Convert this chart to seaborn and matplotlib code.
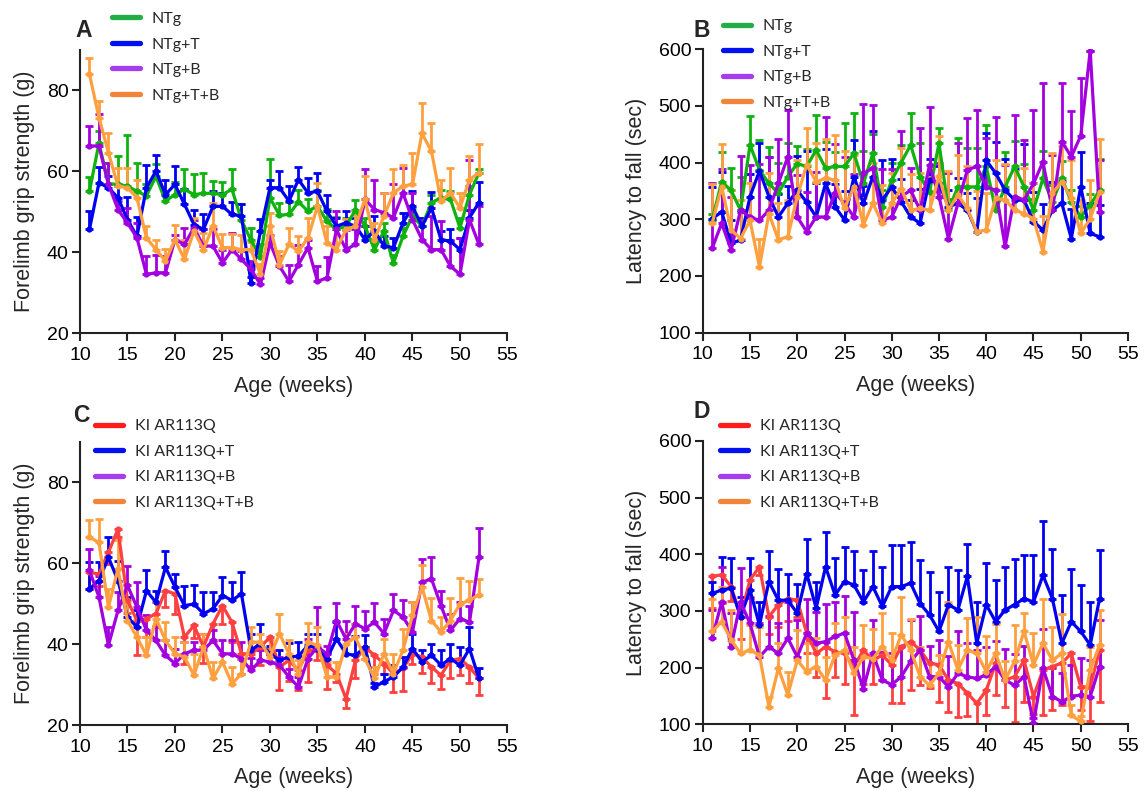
import matplotlib
matplotlib.use("Agg")
import matplotlib.pyplot as plt
from matplotlib.lines import Line2D
import pandas as pd
import seaborn as sns

weeks = list(range(11, 53))

# ---- Panel A: forelimb grip strength (g), NTg groups ----
a_ntg = [55.1, 67, 57, 56.8, 56.4, 55.1, 54, 58.8, 52.7, 54.3,
         55.6, 54.3, 54.6, 54.6, 54.3, 55.6, 48, 43, 39, 53.5,
         49.2, 49.4, 52.5, 50.2, 51.4, 47.7, 45.7, 46.5, 50.5, 46.5,
         40.7, 45.3, 37.4, 44, 49, 46.5, 52.3, 53.5, 53.1, 46.1, 54.3, 59.7]
a_ntg_err = [3.5, 3, 5, 7, 12.5, 7, 3, 3, 2, 3,
             5, 5, 5, 3, 3, 5, 4, 3, 3, 9.5,
             3, 3, 3, 3, 4, 3, 3, 2, 2.5, 2,
             2, 2, 2, 2, 2, 2, 2, 2, 2, 2.5, 2, 1]
a_t = [45.7, 57.2, 56, 53.5, 48.1, 44, 56, 60.1, 54.3, 56.8,
       51.9, 46.9, 45.7, 51.4, 51.4, 49.4, 49, 32.5, 45.3, 56,
       56, 52.7, 58, 54.7, 55.1, 50.2, 46.5, 47.3, 46.5, 43.2,
       45.3, 41.6, 41.2, 47.3, 51.4, 46.5, 51, 43.2, 42.8, 40.7, 48.6, 52.3]
a_t_err = [4.5, 4, 3, 3, 5.6, 4.8, 5.7, 4, 3.7, 4.5,
           3.7, 3.7, 3.7, 3.7, 3.3, 3, 3, 1.5, 3, 2,
           4, 3.7, 3, 3.7, 4.6, 4, 2, 3, 2, 3.3,
           3.7, 2.5, 2.5, 2.5, 3.7, 2, 4, 2, 3, 3, 2, 5]
a_b = [66.3, 66.3, 56.8, 50.6, 47.3, 43.6, 34.6, 35, 35, 43.2,
       42, 46.1, 41.6, 41.6, 37.4, 40.7, 38.3, 35.8, 32.1, 42.4,
       36.6, 32.9, 37, 41.2, 32.9, 33.7, 45.7, 40.7, 42, 53.1,
       50.6, 49.8, 48.6, 54.7, 48.1, 43.2, 40.7, 40.7, 36.6, 34.6, 48.1, 42]
a_b_err = [4.9, 7.8, 5.3, 2, 3.7, 3.7, 4.5, 4.5, 4.1, 1,
           4, 2, 4.1, 4.1, 3.3, 4.1, 2, 2, 1.5, 2,
           2.5, 4.1, 4.9, 2, 3.7, 5.3, 4.5, 4.9, 3.7, 7.4,
           7.2, 4.9, 8.2, 6.2, 6.7, 4.9, 8.2, 7, 6.6, 9, 14.8, 9.4]
a_tb = [84, 73.3, 64.6, 56.4, 56, 53.5, 43.6, 40.7, 37.9, 43.2,
        38.3, 45.3, 40.7, 46.5, 41.2, 41.2, 40.7, 40.7, 34.6, 46.5,
        37, 42, 40.3, 43.6, 51.4, 42.4, 40.7, 45.7, 46.5, 53.1,
        43.2, 49, 54.7, 56.4, 56.8, 69.4, 65, 52.7, 54.7, 51, 58, 59.7]
a_tb_err = [4, 4.1, 4.9, 4.5, 4.9, 4.5, 2.9, 2.5, 2.9, 3.7,
            4.9, 3.3, 4.1, 5.8, 3.3, 3.3, 3.7, 2, 2.5, 3.3,
            3.3, 4.1, 3.7, 4.9, 5.8, 4.1, 5.3, 2.5, 3.7, 5.8,
            4.1, 5.8, 5.9, 5.1, 7.7, 7.6, 7, 5.3, 6.2, 3.7, 5.8, 7]

# ---- Panel B: rotarod latency to fall (sec), NTg groups ----
b_ntg = [299, 366, 351, 316, 431, 387, 363, 346, 375, 398,
         393, 422, 390, 393, 393, 416, 363, 416, 322, 369,
         400, 431, 375, 348, 434, 316, 357, 357, 357, 393,
         316, 357, 393, 357, 316, 372, 331, 372, 331, 304, 325, 351]
b_ntg_err = [10, 53, 39, 59, 51, 53, 65, 54, 59, 31,
             30, 62, 47, 25, 77, 71, 57, 34, 30, 30,
             30, 57, 59, 20, 27, 20, 87, 68, 68, 73,
             20, 61, 45, 40, 20, 49, 30, 30, 20, 20, 20, 56]
b_t = [301, 313, 258, 263, 340, 385, 340, 304, 328, 351,
       330, 304, 363, 322, 299, 375, 328, 375, 334, 357,
       331, 304, 293, 369, 363, 322, 328, 316, 278, 404,
       381, 351, 334, 334, 296, 281, 316, 328, 266, 357, 275, 269]
b_t_err = [56, 70, 40, 50, 40, 50, 70, 40, 30, 60,
           90, 60, 60, 40, 50, 65, 30, 80, 70, 50,
           40, 30, 60, 38, 30, 30, 44, 30, 60, 48,
           56, 55, 55, 98, 52, 45, 50, 40, 52, 61, 53, 56]
b_b = [249, 293, 246, 316, 304, 298, 316, 363, 410, 304,
       278, 304, 304, 346, 328, 304, 381, 390, 298, 304,
       340, 351, 316, 396, 340, 266, 328, 387, 393, 357,
       351, 252, 340, 334, 363, 401, 316, 437, 410, 447, 597, 313]
b_b_err = [115, 95, 94, 95, 92, 99, 94, 78, 82, 74,
           70, 80, 177, 86, 82, 75, 122, 112, 90, 85,
           116, 40, 145, 102, 60, 115, 106, 91, 100, 86,
           130, 144, 143, 106, 129, 139, 97, 103, 80, 102, 0, 91]
b_tb = [293, 357, 281, 266, 298, 216, 310, 264, 269, 340,
        396, 366, 372, 369, 319, 357, 290, 328, 293, 328,
        354, 316, 319, 316, 376, 316, 343, 319, 278, 281,
        337, 334, 316, 310, 301, 243, 346, 366, 337, 275, 301, 348]
b_tb_err = [69, 76, 70, 68, 66, 50, 71, 64, 65, 64,
            64, 68, 69, 79, 101, 56, 47, 71, 67, 53,
            71, 64, 63, 58, 71, 69, 70, 74, 71, 65,
            68, 63, 69, 81, 62, 63, 71, 63, 68, 59, 68, 93]

# ---- Panel C: forelimb grip strength (g), KI AR113Q groups ----
c_ki = [57.7, 57.3, 62.7, 68.4, 50.8, 45.8, 46.3, 47.5, 53.2, 52.4,
        41.7, 44.6, 39.3, 45, 49.5, 45.4, 37.6, 37.6, 39.3, 41.7,
        34.3, 36, 33.5, 38.5, 38.5, 34.8, 32.7, 26.5, 36, 39.3,
        37.2, 35.2, 32.7, 34, 37.6, 36.8, 34.3, 32.3, 36, 36.4, 34.3, 31.5]
c_ki_err = [4, 3, 3, 2, 3, 8.6, 4.5, 3, 4, 5,
            6.5, 3, 4, 4.5, 4.5, 5, 5, 3, 4.5, 3,
            5.7, 5, 4.9, 7.8, 2.5, 6, 2, 2.2, 4.5, 3,
            4.5, 2.5, 4.5, 5.7, 2.5, 4, 4, 3.3, 4.5, 4, 4, 4.1]
c_t = [53.6, 55.7, 61.4, 55.7, 46.7, 44.2, 53.2, 50.3, 59, 54.1,
       49.5, 49.9, 47.5, 48.7, 52, 50.8, 52.4, 38.5, 40.1, 37.6,
       36, 36.8, 37, 39.7, 38.9, 36.4, 41.3, 37.6, 37.2, 39.3,
       29.4, 30.7, 31.9, 34.3, 38.9, 35.6, 37.2, 34.8, 36.4, 34.8, 38.9, 31.5]
c_t_err = [6.6, 4.5, 5, 4.9, 4.9, 4.1, 5, 2.9, 3.9, 3.1,
           4.9, 4.8, 5.3, 4.1, 4.5, 4.5, 5.3, 4.1, 4.9, 2,
           2.5, 3.4, 3.4, 2.9, 3.7, 1.5, 4.1, 4.9, 4.9, 2.9,
           1, 2, 2.9, 2.5, 3.7, 2.9, 2.9, 3.7, 3.5, 4.5, 5.3, 2.5]
c_b = [58.2, 51.6, 39.7, 48.3, 54.5, 49.1, 43.4, 40.9, 37.2, 35.2,
       37.6, 38.5, 38.5, 40.9, 37.6, 37.6, 36.4, 33.5, 36, 35.6,
       34.8, 31.9, 29.4, 36.4, 39.3, 37.6, 45.8, 41.3, 45, 43.8,
       45.4, 42.6, 48.3, 46.7, 43, 55.3, 56.1, 49.5, 43.4, 46.3, 45.4, 61.4]
c_b_err = [5.3, 5.3, 4.5, 4.5, 4.9, 6.2, 3.7, 3.3, 3.7, 3.7,
           2.9, 2, 4.1, 2.5, 3.3, 3.3, 4.1, 3.1, 2.5, 2,
           2, 2, 2.5, 4.9, 9.8, 2, 4.4, 4.5, 4.5, 4.4,
           4.7, 3.7, 4.1, 4.3, 7.4, 5.7, 5.3, 3.7, 4.1, 4.1, 4.1, 7.4]
c_tb = [66.4, 65.1, 49.1, 58.6, 45.8, 41.7, 37.2, 46.3, 40.9, 37.6,
        36.8, 32.3, 39.3, 31.5, 35.6, 30.2, 32.7, 40.5, 40.5, 36.8,
        42.6, 37.6, 32.7, 40.5, 39.7, 31.9, 31.9, 40.1, 41.7, 36.4,
        31.5, 37.6, 32.7, 38.5, 47.1, 54.1, 45.8, 43, 45.8, 49.9, 50.8, 52.2]
c_tb_err = [4.2, 5.8, 4.5, 7, 4.5, 4.3, 4.5, 4.1, 4.5, 4.1,
            3.7, 5.3, 3.3, 4.1, 2, 4.1, 3.7, 3.7, 2, 4.1,
            4.9, 3.3, 3.3, 4.7, 4.5, 3.7, 3.7, 2.5, 3.3, 2,
            2.9, 3.7, 4.9, 5.3, 3.3, 5.5, 5.7, 3.7, 5.7, 6.5, 4.7, 3.9]

# ---- Panel D: rotarod latency to fall (sec), KI AR113Q groups ----
d_ki = [361, 364, 343, 290, 355, 378, 290, 311, 322, 319,
        261, 225, 237, 228, 225, 202, 231, 213, 222, 205,
        237, 246, 231, 208, 205, 178, 172, 155, 137, 160,
        208, 178, 184, 213, 149, 196, 202, 208, 225, 166, 166, 231]
d_ki_err = [55, 50, 25, 40, 30, 15, 30, 40, 40, 30,
            35, 41, 91, 44, 53, 86, 59, 41, 44, 67,
            100, 85, 62, 44, 65, 56, 59, 41, 38, 44,
            56, 47, 80, 74, 30, 80, 77, 74, 74, 40, 60, 91]
d_t = [331, 337, 340, 290, 337, 275, 352, 319, 319, 296,
       366, 305, 378, 328, 352, 346, 316, 343, 308, 343,
       343, 349, 313, 293, 264, 311, 302, 361, 243, 311,
       281, 302, 311, 322, 316, 363, 322, 243, 281, 264, 240, 322]
d_t_err = [20, 59, 54, 35, 56, 41, 53, 55, 47, 51,
           61, 47, 61, 65, 61, 59, 56, 62, 70, 73,
           73, 73, 77, 75, 70, 67, 70, 58, 73, 73,
           74, 76, 81, 77, 82, 96, 88, 85, 93, 82, 76, 86]
d_b = [252, 316, 237, 316, 278, 219, 237, 225, 252, 219,
       261, 243, 246, 255, 261, 213, 163, 225, 178, 170,
       184, 211, 231, 184, 184, 166, 190, 184, 181, 187,
       202, 178, 169, 184, 102, 199, 149, 140, 149, 152, 149, 202]
d_b_err = [50, 62, 60, 59, 45, 60, 55, 53, 64, 65,
           61, 55, 67, 61, 65, 85, 55, 59, 50, 55,
           55, 73, 60, 55, 65, 55, 74, 60, 50, 50,
           45, 55, 55, 55, 10, 70, 50, 50, 55, 65, 65, 82]
d_tb = [264, 281, 249, 225, 231, 222, 131, 199, 152, 213,
        193, 202, 178, 222, 231, 190, 219, 216, 237, 213,
        258, 231, 184, 169, 190, 246, 196, 231, 225, 193,
        225, 178, 211, 264, 205, 243, 213, 225, 116, 105, 196, 240]
d_tb_err = [58, 62, 53, 71, 44, 50, 18, 45, 41, 53,
            50, 50, 41, 56, 59, 47, 56, 52, 59, 49,
            67, 54, 53, 39, 33, 70, 44, 56, 65, 62,
            52, 34, 64, 33, 56, 79, 59, 70, 18, 10, 41, 62]

ntg_labels = ["NTg", "NTg+T", "NTg+B", "NTg+T+B"]
ki_labels = ["KI AR113Q", "KI AR113Q+T", "KI AR113Q+B", "KI AR113Q+T+B"]

GREEN, BLUE, PURPLE, ORANGE, RED = "#0fb20f", "#0000f0", "#a300e0", "#ffa040", "#ff4040"
LEG = {GREEN: "#22ad45", BLUE: "#0010f0", PURPLE: "#a43cf2", ORANGE: "#f0853a", RED: "#ff1c1c"}

sns.set_style("ticks")
plt.rcParams["font.family"] = ["Liberation Sans", "DejaVu Sans"]

fig = plt.figure(figsize=(11.44, 7.91), dpi=100)
axA = fig.add_axes([0.0699, 0.5784, 0.3737, 0.3584])
axB = fig.add_axes([0.6143, 0.5794, 0.3717, 0.3586])
axC = fig.add_axes([0.0699, 0.0834, 0.3737, 0.3582])
axD = fig.add_axes([0.6143, 0.0843, 0.3717, 0.3582])

panels = [
    (axA, "A", ntg_labels, [(a_ntg, a_ntg_err, GREEN, 1), (a_t, a_t_err, BLUE, 1),
                            (a_b, a_b_err, PURPLE, 1), (a_tb, a_tb_err, ORANGE, 1)],
     "Forelimb grip strength (g)", (20, 90), [20, 40, 60, 80]),
    (axB, "B", ntg_labels, [(b_ntg, b_ntg_err, GREEN, 1), (b_t, b_t_err, BLUE, 1),
                            (b_b, b_b_err, PURPLE, 1), (b_tb, b_tb_err, ORANGE, 1)],
     "Latency to fall (sec)", (100, 600), [100, 200, 300, 400, 500, 600]),
    (axC, "C", ki_labels, [(c_ki, c_ki_err, RED, -1), (c_t, c_t_err, BLUE, 1),
                           (c_b, c_b_err, PURPLE, 1), (c_tb, c_tb_err, ORANGE, 1)],
     "Forelimb grip strength (g)", (20, 90), [20, 40, 60, 80]),
    (axD, "D", ki_labels, [(d_ki, d_ki_err, RED, -1), (d_t, d_t_err, BLUE, 1),
                           (d_b, d_b_err, PURPLE, 1), (d_tb, d_tb_err, ORANGE, 1)],
     "Latency to fall (sec)", (100, 600), [100, 200, 300, 400, 500, 600]),
]

legend_anchor = {"A": (0.0979, 0.985), "B": (0.632, 0.976),
                 "C": (0.083, 0.470), "D": (0.629, 0.470)}
letter_pos = {"A": (0.0656, 0.953), "B": (0.606, 0.953),
              "C": (0.0638, 0.4665), "D": (0.606, 0.4716)}

for ax, letter, labels, series, ylabel, ylim, yticks in panels:
    for (vals, err, color, direction), lab in zip(series, labels):
        lo = [e if direction < 0 else 0 for e in err]
        hi = [e if direction > 0 else 0 for e in err]
        ax.errorbar(weeks, vals, yerr=[lo, hi], fmt="none", ecolor=color,
                    elinewidth=2.0, capsize=3.2, capthick=2.0, zorder=2)
        df = pd.DataFrame({"week": weeks, "value": vals})
        sns.lineplot(data=df, x="week", y="value", ax=ax, color=color,
                     linewidth=2.3, marker="o", markersize=4.5,
                     markeredgewidth=0, legend=False, zorder=3)
    ax.set_xlim(10, 55)
    ax.set_xticks(range(10, 56, 5))
    ax.set_ylim(*ylim)
    ax.set_yticks(yticks)
    ax.set_xlabel("Age (weeks)", fontsize=15.5, labelpad=8.5)
    ax.set_ylabel(ylabel, fontsize=15.5, labelpad=8)
    for s in ["top", "right"]:
        ax.spines[s].set_visible(False)
    for s in ["left", "bottom"]:
        ax.spines[s].set_linewidth(1.5)
        ax.spines[s].set_color("#222222")
    ax.tick_params(axis="both", direction="out", length=5.8, width=1.5,
                   labelsize=14, colors="#222222", labelcolor="black")
    ax.tick_params(axis="x", pad=4)
    ax.tick_params(axis="y", pad=2.5)
    handles = [Line2D([0], [0], color=LEG[c], lw=3.8) for (_, _, c, _) in series]
    ax.legend(handles, labels, loc="upper left", bbox_to_anchor=legend_anchor[letter],
              bbox_transform=fig.transFigure, frameon=False, borderpad=0,
              borderaxespad=0, handlelength=1.75, handletextpad=0.75,
              labelspacing=0.71, prop={"family": ["Lato", "DejaVu Sans"], "size": 11.5})
    fig.text(*letter_pos[letter], letter, fontsize=16.5, fontweight="bold",
             ha="left", va="baseline")

fig.savefig("out.png", dpi=100)
